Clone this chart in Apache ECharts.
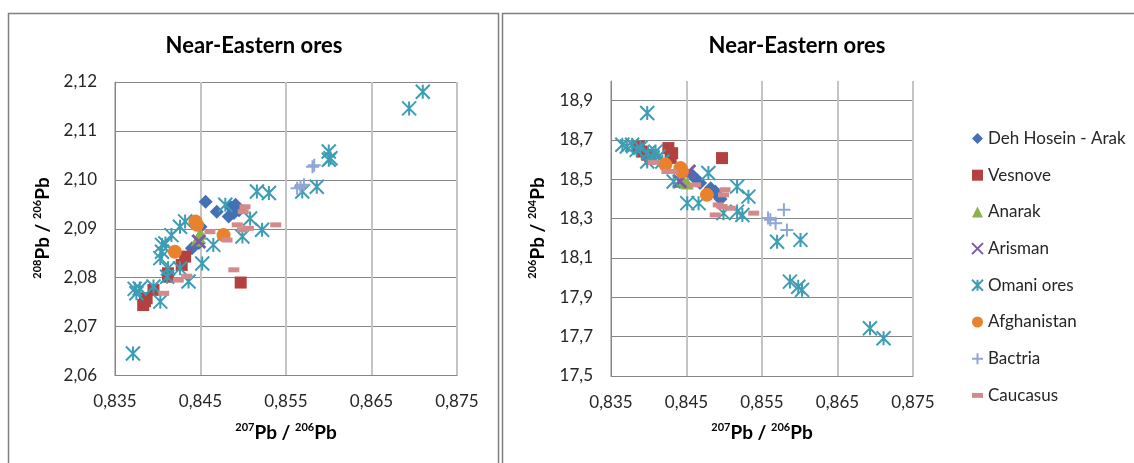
<!DOCTYPE html>
<html><head><meta charset="utf-8">
<script src="https://cdn.jsdelivr.net/npm/echarts@6/dist/echarts.min.js"></script>
<style>html,body{margin:0;padding:0;background:#fff;}#c{width:1134px;height:463px;}</style>
</head><body><div id="c"></div>
<script>
// ---------------- DATA ----------------
const chartTitle = 'Near-Eastern ores';
const seriesNames = ['Deh Hosein - Arak','Vesnove','Anarak','Arisman','Omani ores','Afghanistan','Bactria','Caucasus'];
const xTicks = [0.835, 0.845, 0.855, 0.865, 0.875];          // 207Pb/206Pb
const leftYTicks = [2.06, 2.07, 2.08, 2.09, 2.10, 2.11, 2.12]; // 208Pb/206Pb
const rightYTicks = [17.5, 17.7, 17.9, 18.1, 18.3, 18.5, 18.7, 18.9]; // 206Pb/204Pb
const rightYMax = 19.0;

// left chart: [207Pb/206Pb, 208Pb/206Pb]
const dehHoseinL = [[0.8456,2.0955],[0.8469,2.0935],[0.8485,2.0945],[0.8491,2.0949],[0.8495,2.0938],[0.8483,2.0925],[0.8489,2.0932],[0.8448,2.0871],[0.8440,2.0860],[0.8450,2.0904]];
const vesnoveL = [[0.8383,2.0744],[0.8385,2.0752],[0.8387,2.0758],[0.8395,2.0775],[0.8412,2.0802],[0.8412,2.0809],[0.8428,2.0826],[0.8432,2.0843],[0.8497,2.0790]];
const anarakL = [[0.8448,2.0884],[0.8450,2.0891],[0.8446,2.0877]];
const arismanL = [[0.8448,2.0874]];
const omaniL = [[0.8371,2.0645],[0.8373,2.0777],[0.8379,2.0778],[0.8375,2.0768],[0.8395,2.0782],[0.8403,2.0751],[0.8411,2.0802],[0.8412,2.0819],[0.8403,2.0840],[0.8405,2.0853],[0.8405,2.0867],[0.8409,2.0870],[0.8416,2.0887],[0.8426,2.0904],[0.8432,2.0915],[0.8426,2.0819],[0.8436,2.0792],[0.8452,2.0829],[0.8465,2.0867],[0.8479,2.0949],[0.8499,2.0884],[0.8508,2.0921],[0.8522,2.0898],[0.8516,2.0976],[0.8530,2.0973],[0.8569,2.0976],[0.8586,2.0986],[0.8600,2.1041],[0.8602,2.1044],[0.8600,2.1058],[0.8694,2.1146],[0.8710,2.1180]];
const afghanistanL = [[0.8444,2.0915],[0.8446,2.0908],[0.8477,2.0887],[0.8420,2.0853]];
const bactriaL = [[0.8563,2.0983],[0.8567,2.0986],[0.8571,2.0990],[0.8581,2.1027],[0.8583,2.1030]];
const caucasusL = [[0.8502,2.0945],[0.8500,2.0935],[0.8493,2.0908],[0.8499,2.0898],[0.8506,2.0901],[0.8538,2.0908],[0.8461,2.0894],[0.8481,2.0877],[0.8489,2.0816],[0.8434,2.0803],[0.8424,2.0795],[0.8407,2.0768]];

// right chart: [207Pb/206Pb, 206Pb/204Pb]
const dehHoseinR = [[0.8464,18.497],[0.8482,18.455],[0.8493,18.412],[0.8488,18.438],[0.8457,18.523],[0.8468,18.481],[0.8495,18.400]];
const vesnoveR = [[0.8387,18.667],[0.8391,18.641],[0.8398,18.625],[0.8402,18.616],[0.8426,18.659],[0.8431,18.633],[0.8429,18.609],[0.8497,18.608]];
const anarakR = [[0.8446,18.489],[0.8451,18.481],[0.8442,18.489]];
const arismanR = [[0.8441,18.490],[0.8453,18.540]];
const omaniR = [[0.8398,18.837],[0.8371,18.667],[0.8378,18.676],[0.8384,18.650],[0.8365,18.676],[0.8389,18.660],[0.8399,18.635],[0.8409,18.641],[0.8413,18.616],[0.8405,18.610],[0.8398,18.591],[0.8418,18.591],[0.8433,18.489],[0.8479,18.532],[0.8451,18.379],[0.8466,18.379],[0.8517,18.463],[0.8532,18.412],[0.8499,18.328],[0.8517,18.336],[0.8524,18.319],[0.8570,18.183],[0.8601,18.192],[0.8587,17.980],[0.8598,17.954],[0.8603,17.938],[0.8693,17.743],[0.8711,17.692]];
const afghanistanR = [[0.8422,18.575],[0.8442,18.557],[0.8444,18.540],[0.8477,18.421]];
const bactriaR = [[0.8579,18.345],[0.8561,18.294],[0.8568,18.277],[0.8583,18.243],[0.8558,18.304]];
const caucasusR = [[0.8406,18.586],[0.8424,18.540],[0.8431,18.540],[0.8462,18.472],[0.8501,18.447],[0.8499,18.421],[0.8497,18.362],[0.8508,18.353],[0.8488,18.319],[0.8539,18.328],[0.8492,18.370]];

const leftData = [dehHoseinL, vesnoveL, anarakL, arismanL, omaniL, afghanistanL, bactriaL, caucasusL];
const rightData = [dehHoseinR, vesnoveR, anarakR, arismanR, omaniR, afghanistanR, bactriaR, caucasusR];

// ---------------- STYLE ----------------
const FONT = 'Lato, "Liberation Sans", sans-serif';
const XS = 'path://M0,0L10,10M10,0L0,10';
const STAR = 'path://M0,0L10,10M10,0L0,10M5,0L5,10';
const PLUS = 'path://M0,5L10,5M5,0L5,10';
const DASH = 'path://M0,0L10,0L10,4.5L0,4.5Z';
const styles = [
  {symbol:'diamond', size:14, color:'#4470B5'},
  {symbol:'rect', size:12, color:'#B2413F'},
  {symbol:'triangle', size:13, color:'#8EB04E'},
  {symbol:XS, size:13, color:'#7A5BA8', stroke:3},
  {symbol:STAR, size:14, color:'#3C9DB5', stroke:2},
  {symbol:'circle', size:14, color:'#E8822E'},
  {symbol:PLUS, size:13, color:'#8FA6D6', stroke:2},
  {symbol:'rect', size:[11,5], color:'#D48A8A', icon:DASH}
];

const fmt = d => v => v.toFixed(d).replace('.', ',');
const GRID_H = '#868686', GRID_V = '#c4c4c4';

function xAxisCfg(gi) {
  return {
    type:'value', gridIndex:gi, min:xTicks[0], max:xTicks[xTicks.length-1], interval:xTicks[1]-xTicks[0],
    axisLine:{show:true, lineStyle:{color:GRID_H, width:1}},
    axisTick:{show:false},
    splitLine:{show:true, lineStyle:{color:GRID_V, width:2}},
    axisLabel:{formatter:fmt(3), fontFamily:FONT, fontSize:17, color:'#262626', margin:18}
  };
}
function yAxisCfg(gi, ticks, max, dec) {
  return {
    type:'value', gridIndex:gi, min:ticks[0], max:max, interval:+(ticks[1]-ticks[0]).toFixed(4),
    axisLine:{show:true, lineStyle:{color:GRID_H, width:1}},
    axisTick:{show:false},
    splitLine:{show:true, showMaxLine: max === ticks[ticks.length-1], lineStyle:{color:GRID_H, width:1}},
    axisLabel:{formatter:fmt(dec), fontFamily:FONT, fontSize:17, color:'#262626', margin:18,
               showMaxLabel: max === ticks[ticks.length-1]}
  };
}

const series = [];
[leftData, rightData].forEach((set, gi) => {
  set.forEach((pts, i) => {
    const s = styles[i];
    series.push({
      type:'scatter', name:seriesNames[i], xAxisIndex:gi, yAxisIndex:gi,
      data:pts, symbol:s.symbol, symbolSize:s.size, clip:false,
      itemStyle: s.stroke ? {color:s.color, borderColor:s.color, borderWidth:s.stroke, opacity:1}
                          : {color:s.color, opacity:1}
    });
  });
});

const richName = {
  s:{fontSize:11, fontWeight:'bold', fontFamily:FONT, fill:'#000', verticalAlign:'top', lineHeight:12},
  b:{fontSize:19, fontWeight:'bold', fontFamily:FONT, fill:'#000', lineHeight:22}
};
function nameText(x, y, sup1, sup2, rot) {
  return {type:'text', x:x, y:y, rotation:rot||0, z:10,
    style:{text:'{s|'+sup1+'}{b|Pb / }{s|'+sup2+'}{b|Pb}', rich:richName, align:'center', verticalAlign:'middle', fill:'#000'}};
}

const chart = echarts.init(document.getElementById('c'), null, {renderer:'canvas'});
chart.setOption({
  animation:false,
  backgroundColor:'#fff',
  grid:[
    {left:115, top:82, width:342, height:293.5},
    {left:611, top:81, width:302, height:295}
  ],
  xAxis:[xAxisCfg(0), xAxisCfg(1)],
  yAxis:[yAxisCfg(0, leftYTicks, leftYTicks[leftYTicks.length-1], 2), yAxisCfg(1, rightYTicks, rightYMax, 1)],
  legend:{
    orient:'vertical', left:966, top:125, itemGap:19.7, itemWidth:11, itemHeight:11,
    textStyle:{fontFamily:FONT, fontSize:17, color:'#262626', lineHeight:17},
    data: seriesNames.map((n,i) => styles[i].icon ? {name:n, icon:styles[i].icon} : {name:n})
  },
  graphic:[
    {type:'rect', shape:{x:8.5, y:13.5, width:490, height:500}, style:{fill:'none', stroke:'#7f7f7f', lineWidth:1.5}, silent:true, z:-1},
    {type:'rect', shape:{x:502.5, y:13.5, width:700, height:500}, style:{fill:'none', stroke:'#7f7f7f', lineWidth:1.5}, silent:true, z:-1},
    {type:'text', x:254, y:46, style:{text:chartTitle, font:'bold 22px '+FONT, fill:'#000', align:'center', verticalAlign:'middle'}},
    {type:'text', x:797, y:46, style:{text:chartTitle, font:'bold 22px '+FONT, fill:'#000', align:'center', verticalAlign:'middle'}},
    nameText(286, 433, '207', '206'),
    nameText(762, 433, '207', '206'),
    nameText(43, 228, '208', '206', Math.PI/2),
    nameText(538, 228, '206', '204', Math.PI/2)
  ],
  series:series
});
</script>
</body></html>
